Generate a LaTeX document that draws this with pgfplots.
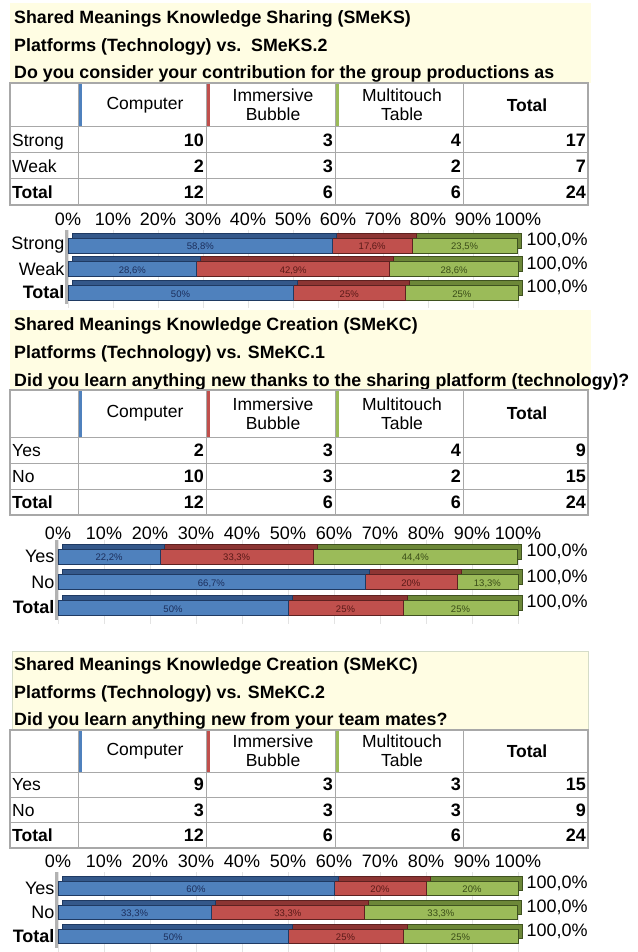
\documentclass[border=0pt]{standalone}
\usepackage{pgfplots}
\pgfplotsset{compat=1.18}
\usepackage{fontspec}
\setmainfont{Liberation Sans}
\definecolor{cblue}{HTML}{4F81BD}
\definecolor{cbluetop}{HTML}{34588A}
\definecolor{cblueline}{HTML}{1F3A63}
\definecolor{cred}{HTML}{C0504D}
\definecolor{credtop}{HTML}{8C3533}
\definecolor{credline}{HTML}{5E2120}
\definecolor{cgreen}{HTML}{9BBB59}
\definecolor{cgreentop}{HTML}{6C8738}
\definecolor{cgreenline}{HTML}{3F5220}
\definecolor{cyel}{HTML}{FFFDE3}
\definecolor{boxc}{HTML}{D5DCC8}
\definecolor{tgray}{HTML}{A8A8A8}
\definecolor{lblblue}{HTML}{1C2F5C}
\definecolor{lblred}{HTML}{5A1A18}
\definecolor{lblgreen}{HTML}{3A4D18}
\newcommand\tabf{\fontsize{17.5}{19}\selectfont}
\newcommand\numf{\fontsize{18}{19}\selectfont\bfseries}
\newcommand\tickf{\fontsize{18}{19}\selectfont}
\newcommand\titlef{\fontsize{17.8}{19}\selectfont\bfseries}
\newcommand\barf{\fontsize{9.5}{10}\selectfont}
\newcommand\ptable[3]{% #1 top, #2 header height, #3 row height
  \pgfmathsetmacro\tyA{#1}%
  \pgfmathsetmacro\tyB{#1+#2}%
  \pgfmathsetmacro\tyC{#1+#2+#3}%
  \pgfmathsetmacro\tyD{#1+#2+2*#3}%
  \pgfmathsetmacro\tyE{#1+#2+3*#3}%
  \pgfmathsetmacro\tyM{#1+#2/2}%
  \fill[white] (10pt,-\tyA pt) rectangle (588pt,-\tyE pt);
  \fill[cblue] (78pt,-\tyA pt) rectangle (82pt,-\tyB pt);
  \fill[cred] (206pt,-\tyA pt) rectangle (210pt,-\tyB pt);
  \fill[cgreen] (335pt,-\tyA pt) rectangle (339pt,-\tyB pt);
  \foreach \yy in {\tyB,\tyC,\tyD} {\draw[tgray, line width=1pt] (10pt,-\yy pt) -- (588pt,-\yy pt);}
  \foreach \xx in {78,206,335,463} {\draw[tgray, line width=1pt] (\xx pt,-\tyA pt) -- (\xx pt,-\tyE pt);}
  \draw[tgray, line width=1.2pt] (10pt,-\tyA pt) rectangle (588pt,-\tyE pt);
  \node[font=\tabf] at (145pt,-\tyM pt) {Computer};
  \node[font=\tabf, align=center, inner sep=0pt] at (273pt,-\tyM pt) {Immersive\\Bubble};
  \node[font=\tabf, align=center, inner sep=0pt] at (402pt,-\tyM pt) {Multitouch\\Table};
  \node[font=\tabf\bfseries] at (527pt,-\tyM pt) {Total};
}
\newcommand\prow[7]{% #1 centre y, #2 label, #3-#6 values, #7 label font
  \node[anchor=base west, inner sep=0pt, font=\tabf#7] at (12pt,{-(#1+6.3)*1pt}) {#2};
  \node[anchor=base east, inner sep=0pt, font=\numf] at (204pt,{-(#1+6.3)*1pt}) {#3};
  \node[anchor=base east, inner sep=0pt, font=\numf] at (333pt,{-(#1+6.3)*1pt}) {#4};
  \node[anchor=base east, inner sep=0pt, font=\numf] at (461pt,{-(#1+6.3)*1pt}) {#5};
  \node[anchor=base east, inner sep=0pt, font=\numf] at (586pt,{-(#1+6.3)*1pt}) {#6};
}
\pgfplotsset{
  pbase/.style={scale only axis, xmin=0, xmax=100, ymin=-0.5, ymax=2.5, y dir=reverse,
    axis line style={draw=none}, major tick length=0pt, xtick=\empty, ytick=\empty, clip=false},
  pgrid/.style={pbase, xtick={0,10,...,100}, xticklabels={}, xmajorgrids,
    grid style={gray!22, line width=0.6pt}, enlarge y limits={abs=4pt}},
  pback/.style={pbase, xbar stacked, bar width=#1},
  pfront/.style={pbase, xbar stacked, bar width=#1, xtick={0,10,...,100},
    xticklabel pos=right, xticklabel={\pgfmathprintnumber{\tick}\%}, ytick={0,1,2},
    tick label style={font=\tickf}, /pgf/number format/assume math mode=true},
  bf/.style={fill=cblue, draw=cblueline, line width=0.6pt},
  rf/.style={fill=cred, draw=credline, line width=0.6pt},
  gf/.style={fill=cgreen, draw=cgreenline, line width=0.6pt},
  bt/.style={fill=cbluetop, draw=cblueline, line width=0.6pt},
  rt/.style={fill=credtop, draw=credline, line width=0.6pt},
  gt/.style={fill=cgreentop, draw=cgreenline, line width=0.6pt},
  seglab/.style={mark=none, draw=none, nodes near coords, point meta=explicit symbolic,
    every node near coord/.append style={anchor=center, text=#1, font=\barf, yshift=-1.5pt}},
  totlab/.style={mark=none, draw=none, nodes near coords, point meta=explicit symbolic,
    every node near coord/.append style={anchor=west, font=\tickf, xshift=5pt, yshift=#1}},
}
\begin{document}
\begin{tikzpicture}
\useasboundingbox (0pt,0pt) rectangle (637pt,-952pt);
\fill[white] (0pt,0pt) rectangle (637pt,-952pt);
% ---------------- Panel 1
\fill[cyel] (10pt,-3pt) rectangle (591pt,-83pt);
\node[anchor=base west, inner sep=0pt, font=\titlef] at (14pt,-23.5pt) {Shared Meanings Knowledge Sharing (SMeKS)};
\node[anchor=base west, inner sep=0pt, font=\titlef] at (14pt,-51.5pt) {Platforms (Technology) vs.\ \ SMeKS.2};
\node[anchor=base west, inner sep=0pt, font=\titlef] at (14pt,-78.5pt) {Do you consider your contribution for the group productions as};
\ptable{83}{44}{26}
\prow{140}{Strong}{10}{3}{4}{17}{}
\prow{166}{Weak}{2}{3}{2}{7}{}
\prow{192}{Total}{12}{6}{6}{24}{\bfseries}
\begin{axis}[pgrid, at={(68pt,-229.75pt)}, anchor=north west, width=450pt, height=78.5pt]
\addplot[draw=none] coordinates {(0,0)};
\end{axis}
\begin{axis}[pback=15pt, at={(72pt,-228.75pt)}, anchor=north west, width=450pt, height=70.5pt]
\addplot[bt] coordinates {(58.8,0) (28.6,1) (50,2)};
\addplot[rt] coordinates {(17.6,0) (42.9,1) (25,2)};
\addplot[gt] coordinates {(23.5,0) (28.6,1) (25,2)};
\end{axis}
\begin{axis}[pfront=15pt, at={(68pt,-233.75pt)}, anchor=north west, width=450pt, height=70.5pt,
  xticklabel style={anchor=center, yshift=14.75pt}, yticklabels={Strong,Weak,\textbf{Total}}]
\draw[gray!60, line width=2.5pt] ([xshift=-1.5pt,yshift=4pt]rel axis cs:0,1) -- ([xshift=-1.5pt]rel axis cs:0,0);
\addplot[bf] coordinates {(58.8,0) (28.6,1) (50,2)};
\addplot[rf] coordinates {(17.6,0) (42.9,1) (25,2)};
\addplot[gf] coordinates {(23.5,0) (28.6,1) (25,2)};
\end{axis}
\begin{axis}[pbase, at={(68pt,-233.75pt)}, anchor=north west, width=450pt, height=70.5pt]
\addplot[seglab=lblblue] coordinates {(29.4,0) [{58,8\%}] (14.3,1) [{28,6\%}] (25,2) [{50\%}]};
\addplot[seglab=lblred] coordinates {(67.6,0) [{17,6\%}] (50.05,1) [{42,9\%}] (62.5,2) [{25\%}]};
\addplot[seglab=lblgreen] coordinates {(88.15,0) [{23,5\%}] (85.8,1) [{28,6\%}] (87.5,2) [{25\%}]};
\addplot[totlab=5pt] coordinates {(100,0) [{100,0\%}] (100,1) [{100,0\%}] (100,2) [{100,0\%}]};
\end{axis}
% ---------------- Panel 2
\fill[cyel] (10pt,-310pt) rectangle (591pt,-390pt);
\node[anchor=base west, inner sep=0pt, font=\titlef] at (14pt,-330pt) {Shared Meanings Knowledge Creation (SMeKC)};
\node[anchor=base west, inner sep=0pt, font=\titlef] at (14pt,-358pt) {Platforms (Technology) vs. SMeKC.1};
\node[anchor=base west, inner sep=0pt, font=\titlef] at (14pt,-386pt) {Did you learn anything new thanks to the sharing platform (technology)?};
\ptable{390}{47}{26}
\prow{450}{Yes}{2}{3}{4}{9}{}
\prow{476}{No}{10}{3}{2}{15}{}
\prow{502}{Total}{12}{6}{6}{24}{\bfseries}
\begin{axis}[pgrid, at={(58pt,-539.75pt)}, anchor=north west, width=460pt, height=84.5pt]
\addplot[draw=none] coordinates {(0,0)};
\end{axis}
\begin{axis}[pback=15pt, at={(62pt,-538.75pt)}, anchor=north west, width=460pt, height=76.5pt]
\addplot[bt] coordinates {(22.2,0) (66.7,1) (50,2)};
\addplot[rt] coordinates {(33.3,0) (20,1) (25,2)};
\addplot[gt] coordinates {(44.4,0) (13.3,1) (25,2)};
\end{axis}
\begin{axis}[pfront=15pt, at={(58pt,-543.75pt)}, anchor=north west, width=460pt, height=76.5pt,
  xticklabel style={anchor=center, yshift=10.75pt}, yticklabels={Yes,No,\textbf{Total}}]
\draw[gray!60, line width=2.5pt] ([xshift=-1.5pt,yshift=4pt]rel axis cs:0,1) -- ([xshift=-1.5pt]rel axis cs:0,0);
\addplot[bf] coordinates {(22.2,0) (66.7,1) (50,2)};
\addplot[rf] coordinates {(33.3,0) (20,1) (25,2)};
\addplot[gf] coordinates {(44.4,0) (13.3,1) (25,2)};
\end{axis}
\begin{axis}[pbase, at={(58pt,-543.75pt)}, anchor=north west, width=460pt, height=76.5pt]
\addplot[seglab=lblblue] coordinates {(11.1,0) [{22,2\%}] (33.35,1) [{66,7\%}] (25,2) [{50\%}]};
\addplot[seglab=lblred] coordinates {(38.85,0) [{33,3\%}] (76.7,1) [{20\%}] (62.5,2) [{25\%}]};
\addplot[seglab=lblgreen] coordinates {(77.7,0) [{44,4\%}] (93.35,1) [{13,3\%}] (87.5,2) [{25\%}]};
\addplot[totlab=5pt] coordinates {(100,0) [{100,0\%}] (100,1) [{100,0\%}] (100,2) [{100,0\%}]};
\end{axis}
% ---------------- Panel 3
\filldraw[fill=cyel, draw=boxc, line width=0.8pt] (12pt,-651pt) rectangle (588pt,-730pt);
\node[anchor=base west, inner sep=0pt, font=\titlef] at (14pt,-670pt) {Shared Meanings Knowledge Creation (SMeKC)};
\node[anchor=base west, inner sep=0pt, font=\titlef] at (14pt,-698pt) {Platforms (Technology) vs. SMeKC.2};
\node[anchor=base west, inner sep=0pt, font=\titlef] at (14pt,-725pt) {Did you learn anything new from your team mates?};
\ptable{730}{42}{25.3}
\prow{784.65}{Yes}{9}{3}{3}{15}{}
\prow{809.95}{No}{3}{3}{3}{9}{}
\prow{835.25}{Total}{12}{6}{6}{24}{\bfseries}
\begin{axis}[pgrid, at={(58pt,-872pt)}, anchor=north west, width=460pt, height=80pt]
\addplot[draw=none] coordinates {(0,0)};
\end{axis}
\begin{axis}[pback=14pt, at={(62pt,-871.5pt)}, anchor=north west, width=460pt, height=72pt]
\addplot[bt] coordinates {(60,0) (33.3,1) (50,2)};
\addplot[rt] coordinates {(20,0) (33.3,1) (25,2)};
\addplot[gt] coordinates {(20,0) (33.3,1) (25,2)};
\end{axis}
\begin{axis}[pfront=14pt, at={(58pt,-876pt)}, anchor=north west, width=460pt, height=72pt,
  xticklabel style={anchor=center, yshift=15pt}, yticklabels={Yes,No,\textbf{Total}}]
\draw[gray!60, line width=2.5pt] ([xshift=-1.5pt,yshift=4pt]rel axis cs:0,1) -- ([xshift=-1.5pt]rel axis cs:0,0);
\addplot[bf] coordinates {(60,0) (33.3,1) (50,2)};
\addplot[rf] coordinates {(20,0) (33.3,1) (25,2)};
\addplot[gf] coordinates {(20,0) (33.3,1) (25,2)};
\end{axis}
\begin{axis}[pbase, at={(58pt,-876pt)}, anchor=north west, width=460pt, height=72pt]
\addplot[seglab=lblblue] coordinates {(30,0) [{60\%}] (16.65,1) [{33,3\%}] (25,2) [{50\%}]};
\addplot[seglab=lblred] coordinates {(70,0) [{20\%}] (49.95,1) [{33,3\%}] (62.5,2) [{25\%}]};
\addplot[seglab=lblgreen] coordinates {(90,0) [{20\%}] (83.25,1) [{33,3\%}] (87.5,2) [{25\%}]};
\addplot[totlab=5pt] coordinates {(100,0) [{100,0\%}] (100,1) [{100,0\%}] (100,2) [{100,0\%}]};
\end{axis}
\end{tikzpicture}
\end{document}
